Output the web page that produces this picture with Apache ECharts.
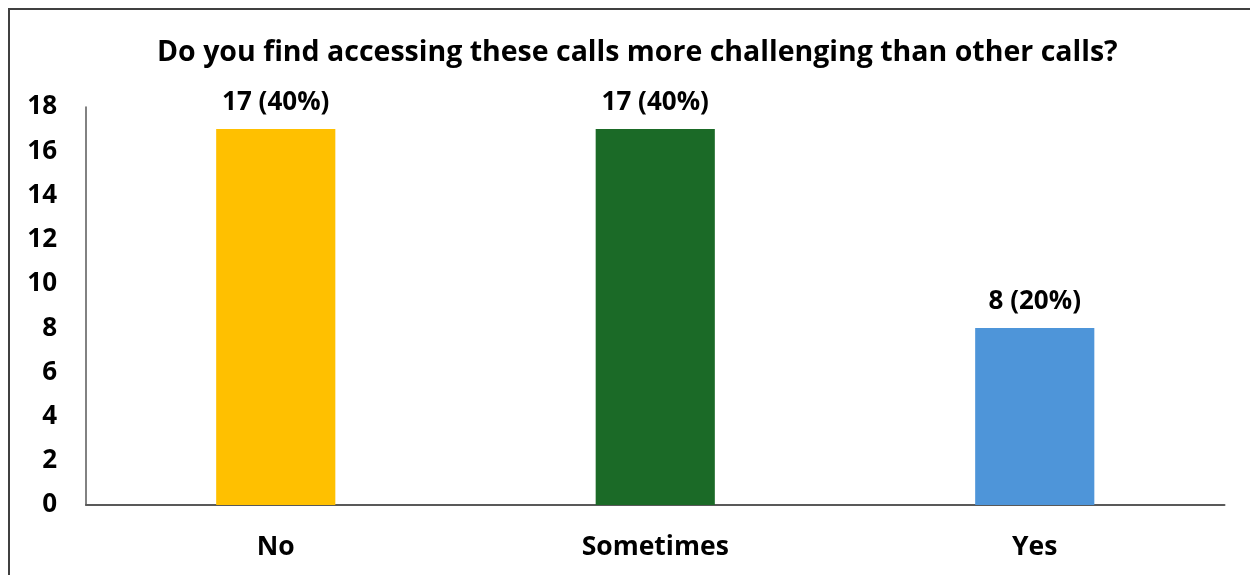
<!DOCTYPE html>
<html>
<head>
<meta charset="utf-8">
<script src="https://cdn.jsdelivr.net/npm/echarts@6/dist/echarts.min.js"></script>
<style>
  html, body { margin: 0; padding: 0; background: #ffffff; }
  #chart { width: 1250px; height: 575px; }
</style>
</head>
<body>
<div id="chart"></div>
<script>
// Survey responses
const categories = ['No', 'Sometimes', 'Yes'];
const counts = [17, 17, 8];
const percents = ['40%', '40%', '20%'];
const barColors = ['#FFC000', '#1B6A27', '#4E95D9'];
const yTicks = { min: 0, max: 18, interval: 2 };

const chart = echarts.init(document.getElementById('chart'));
const fontFamily = '"Open Sans", Roboto, "Liberation Sans", Arial, sans-serif';

chart.setOption({
  animation: false,
  backgroundColor: '#ffffff',
  title: {
    text: 'Do you find accessing these calls more challenging than other calls?',
    left: 152,
    top: 33,
    textStyle: { fontFamily, fontWeight: 'bold', fontSize: 28.5, color: '#000000' }
  },
  graphic: [{
    type: 'rect',
    shape: { x: 9, y: 9, width: 1260, height: 600 },
    style: { fill: 'none', stroke: '#404040', lineWidth: 2 },
    silent: true
  }],
  grid: { left: 86, right: 25.5, top: 107, bottom: 70, containLabel: false },
  xAxis: {
    type: 'category',
    data: categories,
    axisLine: { lineStyle: { color: '#595959', width: 2 } },
    axisTick: { show: false },
    axisLabel: { fontFamily, fontWeight: 'bold', fontSize: 26.5, color: '#000000', margin: 29 }
  },
  yAxis: {
    type: 'value',
    min: yTicks.min,
    max: yTicks.max,
    interval: yTicks.interval,
    splitLine: { show: false },
    axisLine: { show: true, lineStyle: { color: '#595959', width: 1.5 } },
    axisTick: { show: false },
    axisLabel: { fontFamily, fontWeight: 'bold', fontSize: 26, color: '#000000', margin: 29 }
  },
  series: [{
    type: 'bar',
    barWidth: '31.4%',
    data: counts.map((v, i) => ({ value: v, itemStyle: { color: barColors[i] } })),
    label: {
      show: true,
      position: 'top',
      distance: 14,
      fontFamily,
      fontWeight: 'bold',
      fontSize: 26,
      color: '#000000',
      formatter: (p) => p.value + ' (' + percents[p.dataIndex] + ')'
    }
  }]
});
</script>
</body>
</html>
